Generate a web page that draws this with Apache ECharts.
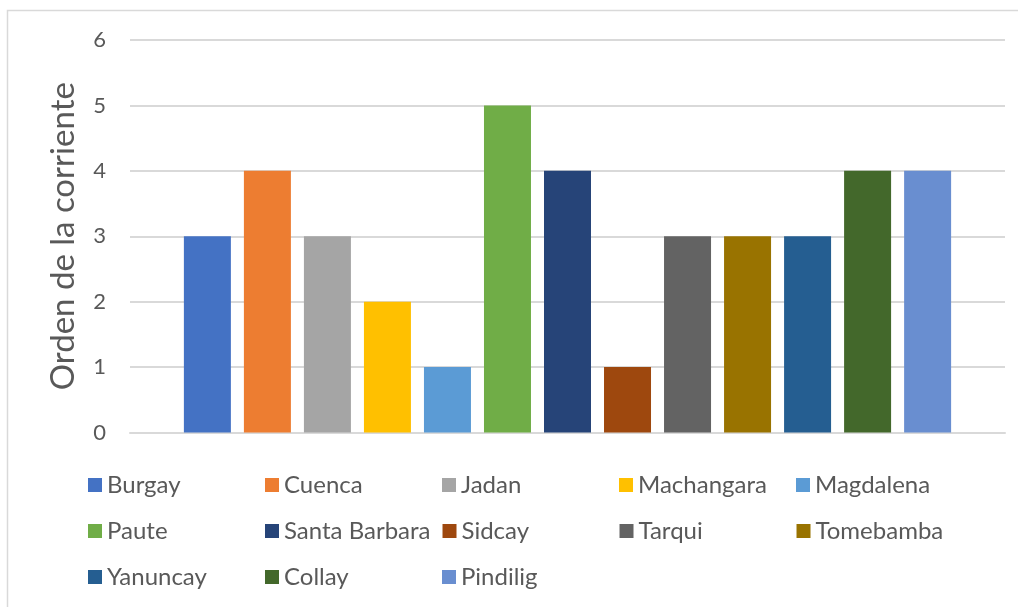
<!DOCTYPE html>
<html>
<head>
<meta charset="utf-8">
<script src="https://cdn.jsdelivr.net/npm/echarts@6/dist/echarts.min.js"></script>
<style>
  html, body { margin: 0; padding: 0; background: #ffffff; }
  #chart { width: 1018px; height: 607px; }
</style>
</head>
<body>
<div id="chart"></div>
<script>
// River basins and their stream order
const rivers = ['Burgay', 'Cuenca', 'Jadan', 'Machangara', 'Magdalena',
  'Paute', 'Santa Barbara', 'Sidcay', 'Tarqui', 'Tomebamba',
  'Yanuncay', 'Collay', 'Pindilig'];
const streamOrder = [3, 4, 3, 2, 1, 5, 4, 1, 3, 3, 3, 4, 4];
const riverColors = ['#4472C4', '#ED7D31', '#A5A5A5', '#FFC000', '#5B9BD5',
  '#70AD47', '#264478', '#9E480E', '#636363', '#997300',
  '#255E91', '#43682B', '#698ED0'];
const yTicks = [0, 1, 2, 3, 4, 5, 6];
const axisTitle = 'Orden de la corriente';

const FONT = 'Lato';
const TEXT = '#595959';
const GRID_LINE = '#d9d9d9';

const series = rivers.map((name, i) => ({
  name: name,
  type: 'bar',
  data: [streamOrder[i]],
  barWidth: 47,
  barGap: '27.7%',
  itemStyle: { color: riverColors[i] }
}));

// legend laid out as three rows of up to five entries
const rows = [rivers.slice(0, 5), rivers.slice(5, 10), rivers.slice(10)];
const rowTops = [473, 519, 565];
const legends = rows.map((names, r) => ({
  data: names,
  orient: 'horizontal',
  left: 88,
  top: rowTops[r],
  padding: 0,
  itemWidth: 14,
  itemHeight: 14,
  itemGap: 12,
  icon: 'rect',
  textStyle: {
    fontFamily: FONT,
    fontSize: 24,
    color: TEXT,
    width: 146,
    lineHeight: 24
  }
}));

const chart = echarts.init(document.getElementById('chart'));
chart.setOption({
  animation: false,
  backgroundColor: '#ffffff',
  graphic: [{
    type: 'rect',
    shape: { x: 7.5, y: 10.5, width: 1200, height: 800 },
    style: { fill: 'none', stroke: GRID_LINE, lineWidth: 1.5 },
    silent: true,
    z: -10
  }],
  grid: { left: 130, right: 13, top: 40, bottom: 174.5 },
  legend: legends,
  xAxis: {
    type: 'category',
    data: [''],
    axisLine: { show: true, lineStyle: { color: GRID_LINE, width: 2 } },
    axisTick: { show: false },
    axisLabel: { show: false }
  },
  yAxis: {
    type: 'value',
    min: yTicks[0],
    max: yTicks[yTicks.length - 1],
    interval: 1,
    name: axisTitle,
    nameLocation: 'middle',
    nameGap: 50,
    nameTextStyle: { fontFamily: FONT, fontSize: 33, color: TEXT },
    axisLine: { show: false },
    axisTick: { show: false },
    axisLabel: { fontFamily: FONT, fontSize: 22, color: TEXT, margin: 24 },
    splitLine: { lineStyle: { color: GRID_LINE, width: 2 } }
  },
  series: series
});
</script>
</body>
</html>
